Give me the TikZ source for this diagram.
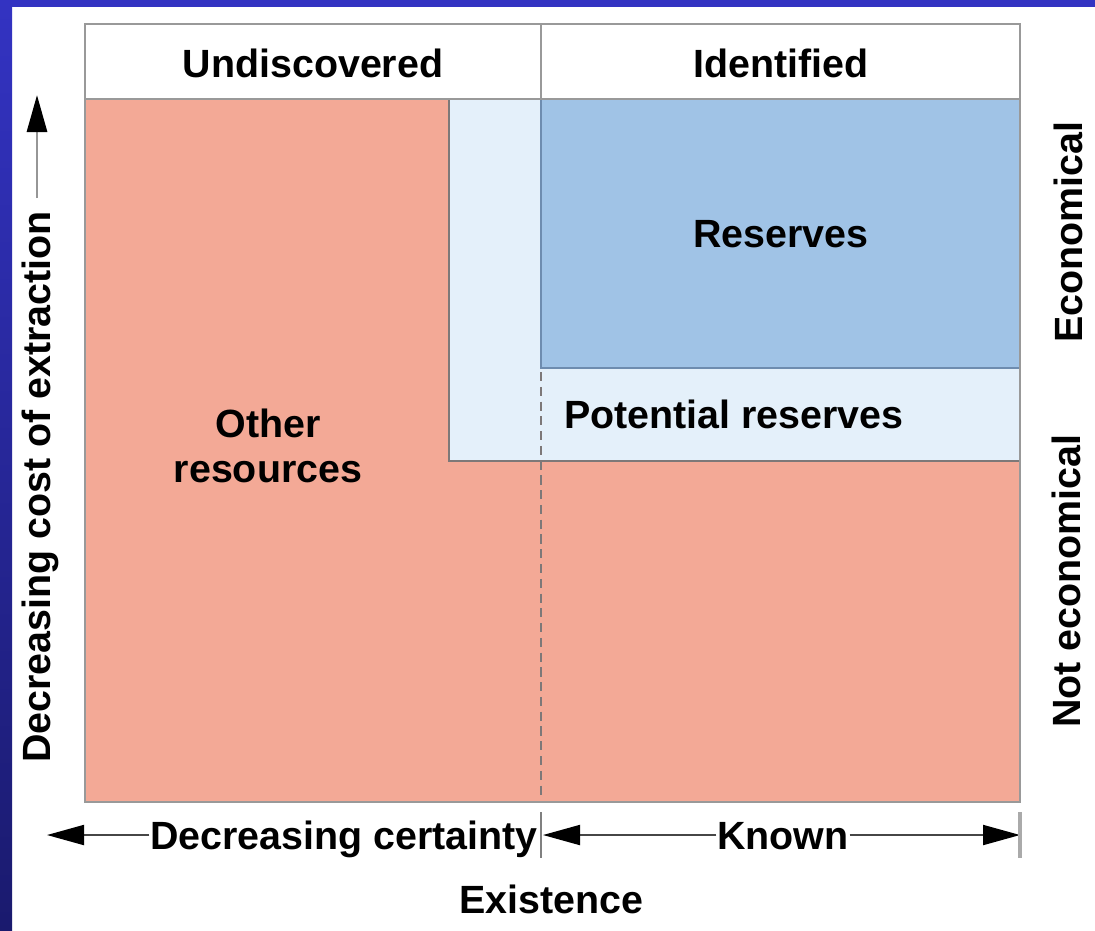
\documentclass[tikz,border=0pt]{standalone}
\usepackage{fontspec}
\setmainfont{Liberation Sans}
\usetikzlibrary{arrows.meta}
\definecolor{frameblue}{RGB}{51,51,194}
\definecolor{framenavy}{RGB}{26,26,110}
\definecolor{otherpink}{RGB}{243,169,150}
\definecolor{reserveblue}{RGB}{160,195,230}
\definecolor{potentialblue}{RGB}{228,240,250}
\definecolor{edgegray}{RGB}{125,120,120}
\definecolor{reserveedge}{RGB}{110,140,175}
\begin{document}
\begin{tikzpicture}[x=0.01cm, y=-0.01cm, line width=0.55pt,
  lbl/.style={font=\fontsize{11.2}{12}\selectfont\bfseries, inner sep=0pt, anchor=base},
  axisarrow/.style={draw={rgb,255:red,70;green,70;blue,70}, -{Triangle[length=0.37cm, width=0.2cm, color=black]}},
  tickmark/.style={draw={rgb,255:red,170;green,170;blue,170}, line width=0.9pt}]
  % frame
  \useasboundingbox (0,0) rectangle (1095,930);
  \fill[white] (0,0) rectangle (1095,930);
  \fill[frameblue] (0,0) rectangle (1095,7);
  \shade[top color=frameblue, bottom color=framenavy] (0,0) rectangle (12,930);
  % regions
  \fill[otherpink] (85,99) rectangle (1020,802);
  \fill[potentialblue] (449,99) rectangle (1020,461);
  \fill[reserveblue] (541,99) rectangle (1020,368);
  \draw[edgegray] (449,99) -- (449,461) -- (1020,461);
  \draw[reserveedge] (541,99) -- (541,368) -- (1020,368);
  \draw[edgegray, dash pattern=on 2.6pt off 1.6pt] (541,372) -- (541,797);
  \draw[gray!80] (85,24) rectangle (1020,802);
  \draw[gray!80] (85,99) -- (1020,99);
  \draw[gray!80] (541,24) -- (541,99);
  % labels
  \node[lbl] (undisc) at (313,77) {Undiscovered};
  \node[lbl] (ident) at (781,77) {Identified};
  \node[lbl] (reserves) at (781,247) {Reserves};
  \node[lbl] (potential) at (734,428) {Potential reserves};
  \node[lbl] (other) at (268,437) {Other};
  \node[lbl] (resources) at (268,482) {resources};
  \node[lbl, rotate=90] (econ) at (1082,232) {Economical};
  \node[lbl, rotate=90] (notecon) at (1080,581) {Not economical};
  \node[lbl, rotate=90] (cost) at (50,487) {Decreasing cost of extraction};
  \node[lbl] (certainty) at (344,849) {Decreasing certainty};
  \node[lbl] (known) at (783,849) {Known};
  \node[lbl] (existence) at (551,913) {Existence};
  % arrows
  \coordinate (costtip) at (37,95);
  \coordinate (lefttip) at (47,835);
  \coordinate (midtip) at (543,835);
  \coordinate (righttip) at (1020,835);
  \draw[axisarrow, draw={rgb,255:red,150;green,150;blue,150}, line width=0.85pt, shorten <=0.12cm]
    (costtip |- cost.east) -- (costtip);
  \draw[axisarrow] (certainty.west |- lefttip) -- (lefttip);
  \draw[axisarrow] (known.west |- midtip) -- (midtip);
  \draw[axisarrow] (known.east |- righttip) -- (righttip);
  \draw[tickmark, line width=0.4pt, draw=gray] (541,812) -- (541,858);
  \draw[tickmark] (1020,812) -- (1020,858);
\end{tikzpicture}
\end{document}
